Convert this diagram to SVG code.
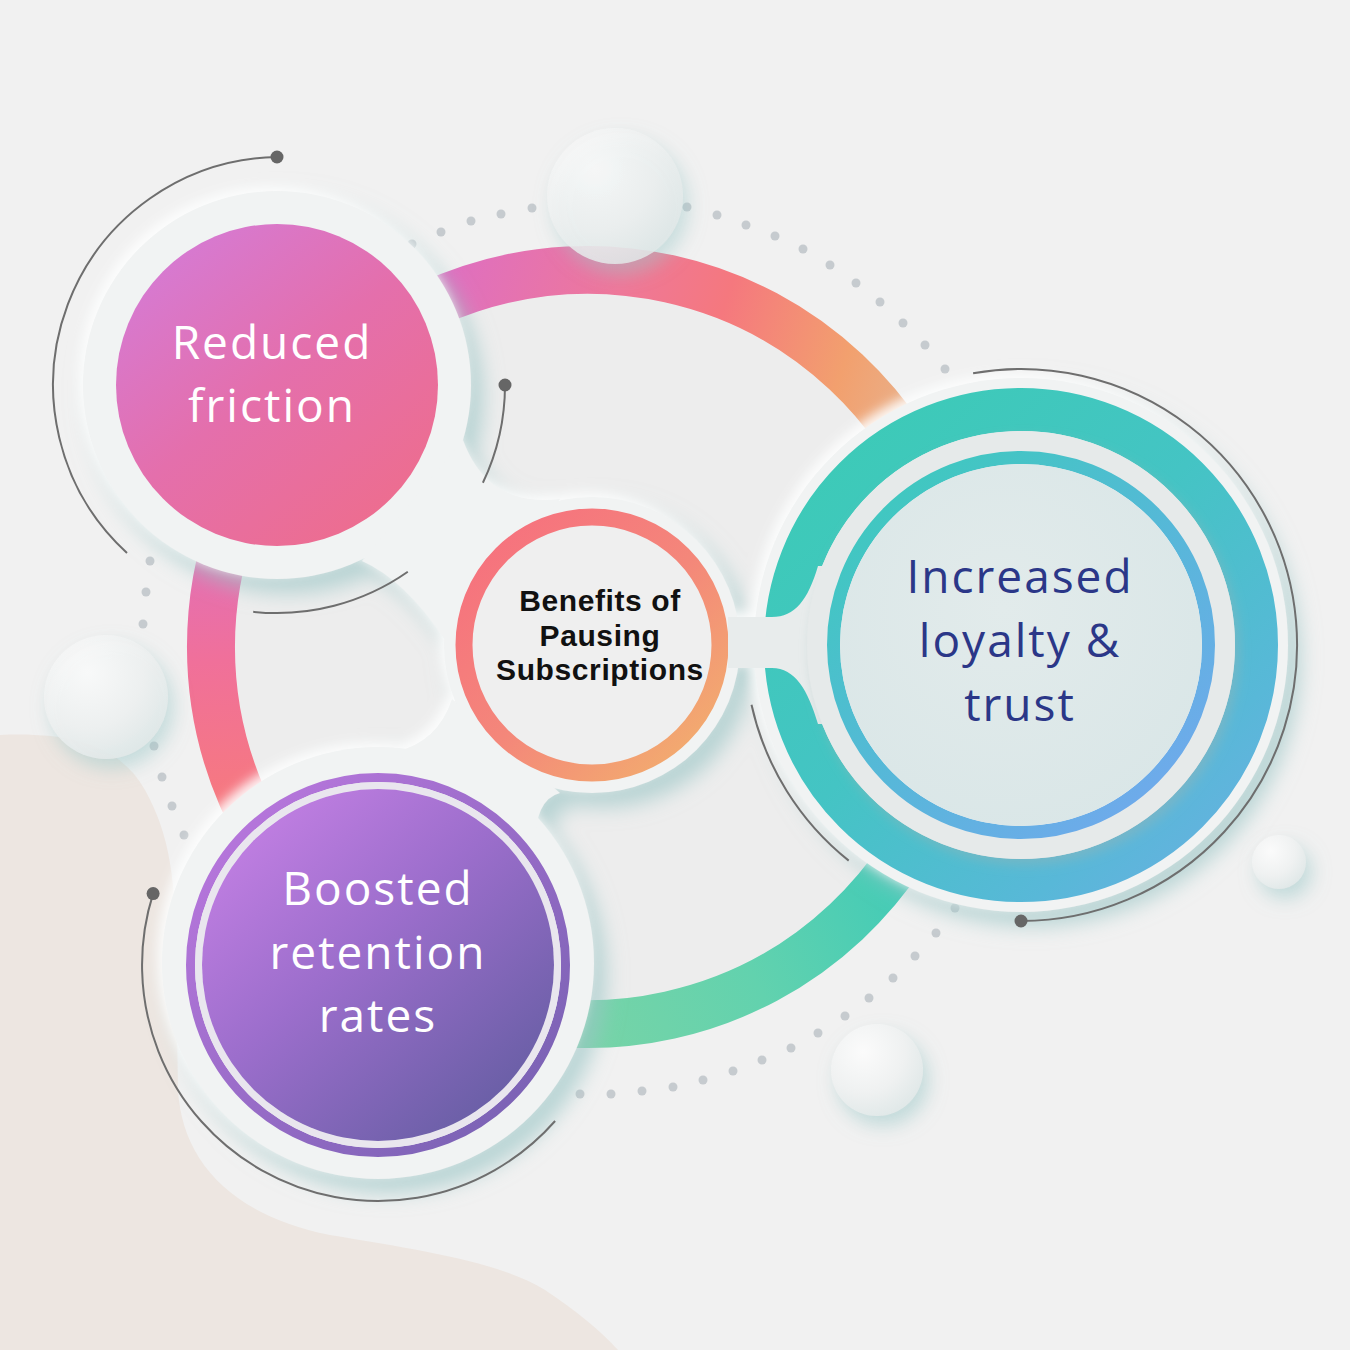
<svg xmlns="http://www.w3.org/2000/svg" width="1350" height="1350" viewBox="0 0 1350 1350">
<defs>
<style>
.lbl{font-family:"Open Sans","Liberation Sans",sans-serif;font-size:46px;text-anchor:middle;letter-spacing:2px}
.w{fill:#ffffff}
.navy{fill:#2b3788}
.ctr{font-family:"Liberation Sans","Arimo",sans-serif;font-weight:700;font-size:30px;text-anchor:middle;fill:#111111;letter-spacing:0.6px}
.garc{fill:none;stroke:#6e6e6e;stroke-width:2}
.gdot{fill:#666666}
.dot{fill:#c6cbcf}
.ring{fill:none;stroke-width:48}
.halo{fill:#f1f3f3}
</style>
<linearGradient id="gTop" gradientUnits="userSpaceOnUse" x1="430" y1="270" x2="930" y2="440">
<stop offset="0" stop-color="#dd6ec4"/><stop offset="0.35" stop-color="#ee789a"/><stop offset="0.55" stop-color="#f5787e"/><stop offset="0.8" stop-color="#f2a06e"/><stop offset="1" stop-color="#e6b592"/>
</linearGradient>
<linearGradient id="gLeft" gradientUnits="userSpaceOnUse" x1="220" y1="500" x2="240" y2="820">
<stop offset="0" stop-color="#dd6fc2"/><stop offset="0.5" stop-color="#f0709a"/><stop offset="1" stop-color="#f77a7c"/>
</linearGradient>
<linearGradient id="gBot" gradientUnits="userSpaceOnUse" x1="560" y1="1040" x2="920" y2="860">
<stop offset="0" stop-color="#7ad4a6"/><stop offset="0.5" stop-color="#62d2ae"/><stop offset="1" stop-color="#3ecab8"/>
</linearGradient>
<linearGradient id="gPink" gradientUnits="userSpaceOnUse" x1="170" y1="250" x2="400" y2="530">
<stop offset="0" stop-color="#d67ad2"/><stop offset="0.45" stop-color="#e46fac"/><stop offset="1" stop-color="#ee6d8c"/>
</linearGradient>
<linearGradient id="gCenter" gradientUnits="userSpaceOnUse" x1="490" y1="540" x2="700" y2="760">
<stop offset="0" stop-color="#f6727e"/><stop offset="0.5" stop-color="#f4877a"/><stop offset="1" stop-color="#f2ae6e"/>
</linearGradient>
<linearGradient id="gPurpleBand" gradientUnits="userSpaceOnUse" x1="200" y1="790" x2="560" y2="1140">
<stop offset="0" stop-color="#bd78e0"/><stop offset="1" stop-color="#7460b0"/>
</linearGradient>
<linearGradient id="gPurple" gradientUnits="userSpaceOnUse" x1="240" y1="810" x2="510" y2="1110">
<stop offset="0" stop-color="#c480e4"/><stop offset="0.45" stop-color="#9c6ecc"/><stop offset="1" stop-color="#675ea4"/>
</linearGradient>
<linearGradient id="gTeal" gradientUnits="userSpaceOnUse" x1="820" y1="420" x2="1240" y2="880">
<stop offset="0" stop-color="#3ccbb6"/><stop offset="0.45" stop-color="#44c4c4"/><stop offset="0.8" stop-color="#58b8d8"/><stop offset="1" stop-color="#6aafe2"/>
</linearGradient>
<linearGradient id="gThin" gradientUnits="userSpaceOnUse" x1="880" y1="480" x2="1170" y2="820">
<stop offset="0" stop-color="#3ec9be"/><stop offset="0.5" stop-color="#56b8d8"/><stop offset="1" stop-color="#72a8ee"/>
</linearGradient>
<radialGradient id="gInner" cx="0.45" cy="0.4" r="0.7">
<stop offset="0" stop-color="#e2ebeb"/><stop offset="1" stop-color="#d9e6e7"/>
</radialGradient>
<radialGradient id="gBubble" cx="0.35" cy="0.3" r="0.75">
<stop offset="0" stop-color="#fbfbfb"/><stop offset="0.6" stop-color="#eff1f1"/><stop offset="1" stop-color="#e0e8e8"/>
</radialGradient>
<filter id="neu" x="-25%" y="-25%" width="150%" height="150%">
<feDropShadow dx="-5" dy="-5" stdDeviation="6" flood-color="#ffffff" flood-opacity="0.9"/>
<feDropShadow dx="12" dy="14" stdDeviation="10" flood-color="#9cc6c6" flood-opacity="0.65"/>
</filter>
<filter id="bub" x="-40%" y="-40%" width="190%" height="190%">
<feDropShadow dx="6" dy="10" stdDeviation="9" flood-color="#9cc8c8" flood-opacity="0.55"/>
</filter>
<filter id="soft" x="-20%" y="-20%" width="140%" height="140%">
<feDropShadow dx="4" dy="6" stdDeviation="6" flood-color="#9ab5b5" flood-opacity="0.45"/>
</filter>
</defs>

<rect width="1350" height="1350" fill="#f1f1f1"/>
<path d="M0,735 C70,732 120,745 145,790 C170,835 176,880 176,960 L178,1090 C182,1160 230,1215 330,1235 C420,1250 500,1262 545,1290 C575,1310 600,1330 618,1350 L0,1350 Z" fill="#ede6e1"/>
<circle cx="588" cy="647" r="353" fill="#ededed"/>

<g id="dots">
<circle class="dot" cx="412" cy="244" r="4.5"/><circle class="dot" cx="441" cy="232" r="4.5"/><circle class="dot" cx="471" cy="221" r="4.5"/><circle class="dot" cx="501" cy="214" r="4.5"/><circle class="dot" cx="532" cy="208" r="4.5"/>
<circle class="dot" cx="687" cy="207" r="4.5"/><circle class="dot" cx="717" cy="215" r="4.5"/><circle class="dot" cx="746" cy="225" r="4.5"/><circle class="dot" cx="775" cy="236" r="4.5"/><circle class="dot" cx="803" cy="249" r="4.5"/><circle class="dot" cx="830" cy="265" r="4.5"/><circle class="dot" cx="856" cy="283" r="4.5"/><circle class="dot" cx="880" cy="302" r="4.5"/><circle class="dot" cx="903" cy="323" r="4.5"/><circle class="dot" cx="925" cy="345" r="4.5"/><circle class="dot" cx="945" cy="369" r="4.5"/>
<circle class="dot" cx="150" cy="561" r="4.5"/><circle class="dot" cx="146" cy="592" r="4.5"/><circle class="dot" cx="143" cy="624" r="4.5"/><circle class="dot" cx="154" cy="746" r="4.5"/><circle class="dot" cx="162" cy="777" r="4.5"/><circle class="dot" cx="172" cy="806" r="4.5"/><circle class="dot" cx="184" cy="835" r="4.5"/>
<circle class="dot" cx="955" cy="908" r="4.5"/><circle class="dot" cx="936" cy="933" r="4.5"/><circle class="dot" cx="915" cy="956" r="4.5"/><circle class="dot" cx="893" cy="978" r="4.5"/><circle class="dot" cx="869" cy="998" r="4.5"/><circle class="dot" cx="845" cy="1016" r="4.5"/><circle class="dot" cx="818" cy="1033" r="4.5"/><circle class="dot" cx="791" cy="1048" r="4.5"/><circle class="dot" cx="762" cy="1060" r="4.5"/><circle class="dot" cx="733" cy="1071" r="4.5"/><circle class="dot" cx="703" cy="1080" r="4.5"/><circle class="dot" cx="673" cy="1087" r="4.5"/><circle class="dot" cx="642" cy="1091" r="4.5"/><circle class="dot" cx="611" cy="1094" r="4.5"/><circle class="dot" cx="580" cy="1094" r="4.5"/>
</g>

<g id="connectors">
<path class="ring" stroke="url(#gTop)" d="M321.4,380.4 A377,377 0 0 1 942.3,518.1"/>
<path class="ring" stroke="url(#gLeft)" d="M321.4,380.4 A377,377 0 0 0 321.4,913.6"/>
<path class="ring" stroke="url(#gBot)" d="M321.4,913.6 A377,377 0 0 0 942.3,775.9"/>
<g filter="url(#neu)">
<circle class="halo" cx="277" cy="385" r="194"/>
<circle class="halo" cx="592" cy="645" r="148"/>
<circle class="halo" cx="378" cy="963" r="216"/>
<circle class="halo" cx="1021" cy="645" r="267"/>
<path class="halo" d="M463,440 Q488,508 560,499 L445,640 Q405,580 362,561 Z"/>
<path class="halo" d="M452,699 Q438,742 395,752 L535,858 Q532,800 560,793 Z"/>
<rect class="halo" x="700" y="617" width="90" height="51"/>
</g>
</g>

<g id="node-reduced">
<circle cx="277" cy="385" r="161" fill="url(#gPink)"/>
<text class="lbl w" x="272" y="359">Reduced</text>
<text class="lbl w" x="272" y="422">friction</text>
</g>

<g id="node-center">
<circle cx="592" cy="645" r="128" fill="#efefef" stroke="url(#gCenter)" stroke-width="17"/>
<text class="ctr" x="600" y="611">Benefits of</text>
<text class="ctr" x="600" y="646">Pausing</text>
<text class="ctr" x="600" y="680">Subscriptions</text>
</g>

<g id="node-boosted">
<circle cx="378" cy="965" r="187.5" fill="none" stroke="url(#gPurpleBand)" stroke-width="9"/>
<circle cx="378" cy="965" r="179.5" fill="none" stroke="#e9e6ee" stroke-width="7"/>
<circle cx="378" cy="965" r="176" fill="url(#gPurple)"/>
<text class="lbl w" x="378" y="905">Boosted</text>
<text class="lbl w" x="378" y="969">retention</text>
<text class="lbl w" x="378" y="1032">rates</text>
</g>

<g id="node-increased">
<circle cx="1021" cy="645" r="235.5" fill="none" stroke="url(#gTeal)" stroke-width="43"/>
<path d="M728,617 L772,617 C795,617 808,600 818,566 L850,566 L850,724 L818,724 C808,690 795,668 772,668 L728,668 Z" fill="#e8ecec"/>
<circle cx="1021" cy="645" r="203.5" fill="none" stroke="#e6eaea" stroke-width="21" filter="url(#soft)"/>
<circle cx="1021" cy="645" r="187.5" fill="none" stroke="url(#gThin)" stroke-width="13"/>
<circle cx="1021" cy="645" r="181" fill="url(#gInner)"/>
<text class="lbl navy" x="1020" y="593">Increased</text>
<text class="lbl navy" x="1020" y="657">loyalty &amp;</text>
<text class="lbl navy" x="1020" y="721">trust</text>
</g>

<g id="arcs">
<path class="garc" d="M277,157 A228,228 0 0 0 127,553"/>
<circle class="gdot" cx="277" cy="157" r="6.5"/>
<path class="garc" d="M505,385 A228,228 0 0 1 482.9,482.8"/>
<circle class="gdot" cx="505" cy="385" r="6.5"/>
<path class="garc" d="M253.2,611.8 A228,228 0 0 0 407.8,571.8"/>
<path class="garc" d="M973.1,373.2 A276,276 0 1 1 1021,921"/>
<circle class="gdot" cx="1021" cy="921" r="6.5"/>
<path class="garc" d="M751.5,704.7 A276,276 0 0 0 848.7,860.6"/>
<path class="garc" d="M153.1,893.6 A236,236 0 0 0 555.1,1121"/>
<circle class="gdot" cx="153.1" cy="893.6" r="6.5"/>
</g>

<g id="bubbles" filter="url(#bub)">
<circle cx="615" cy="196" r="68" fill="url(#gBubble)" opacity="0.85"/>
<circle cx="106" cy="697" r="62" fill="url(#gBubble)" opacity="0.92"/>
<circle cx="877" cy="1070" r="46" fill="url(#gBubble)"/>
<circle cx="1279" cy="862" r="27" fill="url(#gBubble)"/>
</g>
</svg>
